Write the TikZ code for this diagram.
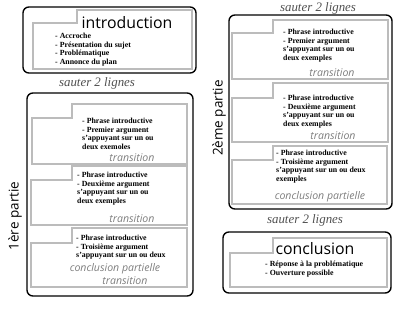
\documentclass[tikz,border=0pt]{standalone}
\usepackage{fontspec}
\setmainfont{Liberation Serif}
\newfontfamily\titlefont{Open Sans}
\usetikzlibrary{positioning}

\definecolor{panelgray}{RGB}{188,188,188}
\definecolor{notegray}{RGB}{125,125,125}
\definecolor{skipgray}{RGB}{80,80,80}

\tikzset{
  outerbox/.style={draw=black, line width=1.2pt, rounded corners=5pt},
  panelline/.style={draw=panelgray, line width=0.9pt},
  bullets/.style={anchor=north west, inner sep=0pt, align=left,
    font=\fontsize{6.7}{7.3}\selectfont\bfseries},
  titre/.style={inner sep=0pt, font=\titlefont\fontsize{13.5}{15}\selectfont},
  trans/.style={inner sep=0pt, text=notegray,
    font=\titlefont\itshape\fontsize{9}{10}\selectfont},
  sauter/.style={inner sep=0pt, text=skipgray,
    font=\itshape\fontsize{11}{12}\selectfont},
  partie/.style={inner sep=0pt, rotate=90,
    font=\titlefont\fontsize{11.5}{13}\selectfont},
}

% gray stepped frame: left, right, top right, step x, top left, bottom
\newcommand{\stepframe}[6]{%
  \draw[panelline] (#1,#5) -- (#4,#5) -- (#4,#3) -- (#2,#3) -- (#2,#6) -- (#1,#6) -- cycle;}

\begin{document}
\begin{tikzpicture}[x=0.03cm, y=-0.03cm]
  \useasboundingbox (0,0) rectangle (400,311);

  % introduction
  \draw[outerbox] (23,7) rectangle (196,73);
  \stepframe{33}{192}{10}{77}{23}{69}
  \node[titre] (intro-title) at (127,23) {introduction};
  \node[bullets] (intro-list) at (55,33) {- Accroche\\- Présentation du sujet\\- Problématique\\- Annonce du plan};

  \node[sauter] (skip-a) at (97,83) {sauter 2 lignes};

  % 1ere partie
  \draw[outerbox] (27,93) rectangle (193,296);
  \node[partie] (p1-label) at (15,216) {1ère partie};

  \stepframe{32}{187}{104}{72}{118}{164}
  \node[bullets] (p1a-list) at (82,118) {- Phrase introductive\\- Premier argument\\s'appuyant sur un ou\\deux exemoles};
  \node[trans] (p1a-trans) at (132,158) {transition};

  \stepframe{31}{187}{166}{72}{180}{225}
  \node[bullets] (p1b-list) at (77,172) {- Phrase introductive\\- Deuxième argument\\s'appuyant sur un ou\\deux exemples};
  \node[trans] (p1b-trans) at (132,219) {transition};

  \stepframe{31}{187}{228}{72}{243}{287}
  \node[bullets] (p1c-list) at (76,235) {- Phrase introductive\\- Troisième argument\\s'appuyant sur un ou deux};
  \node[trans] (p1c-concl) at (115,269) {conclusion partielle};
  \node[trans] (p1c-trans) at (125,281) {transition};

  % 2eme partie
  \node[sauter] (skip-b) at (318,8) {sauter 2 lignes};
  \draw[outerbox] (229,15) rectangle (392,209);
  \node[partie] (p2-label) at (219,118) {2ème partie};

  \stepframe{232}{388}{20}{273}{33}{79}
  \node[bullets] (p2a-list) at (283,29) {- Phrase introductive\\- Premier argument\\s'appuyant sur un ou\\deux exemples};
  \node[trans] (p2a-trans) at (332,73) {transition};

  \stepframe{232}{388}{83}{273}{98}{142}
  \node[bullets] (p2b-list) at (283,95) {- Phrase introductive\\- Deuxième argument\\s'appuyant sur un ou\\deux exemples};
  \node[trans] (p2b-trans) at (333,136) {transition};

  \stepframe{232}{387}{146}{273}{160}{204}
  \node[bullets] (p2c-list) at (276,150) {- Phrase introductive\\- Troisième argument\\s'appuyant sur un ou deux\\exemples};
  \node[trans] (p2c-concl) at (320,197) {conclusion partielle};

  \node[sauter] (skip-c) at (305,220) {sauter 2 lignes};

  % conclusion
  \draw[outerbox] (223,232) rectangle (391,293);
  \stepframe{230}{387}{238}{273}{253}{287}
  \node[titre] (concl-title) at (315,249) {conclusion};
  \node[bullets] (concl-list) at (265,261) {- Réponse à la problématique\\- Ouverture possible};
\end{tikzpicture}
\end{document}
